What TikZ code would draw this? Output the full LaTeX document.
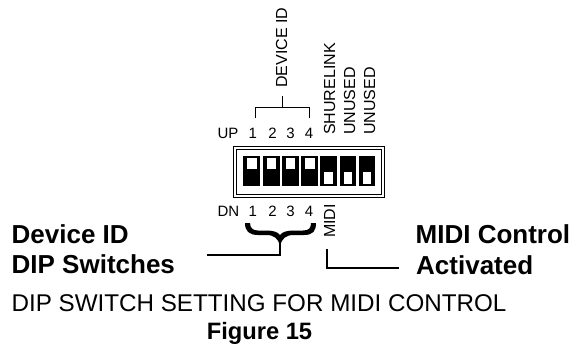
\documentclass[tikz,border=0pt]{standalone}
\usepackage{fontspec}
\setmainfont{Liberation Sans}
\newcommand{\fs}[1]{\fontsize{#1}{#1}\selectfont}
\tikzset{x=1pt,y=-1pt,
 lab/.style={inner sep=0pt,font=\fs{15}},
 vlab/.style={inner sep=0pt,font=\fs{16},rotate=90,anchor=base west},
 big/.style={inner sep=0pt,anchor=base west,font=\fs{26}\bfseries},
 ln/.style={line width=1pt},
 thick2/.style={line width=2pt},
 sw/.style={fill=black,draw=none},
 wh/.style={fill=white,draw=none}}
\begin{document}
\begin{tikzpicture}
\useasboundingbox (0,0) rectangle (576,343);
\fill[white] (0,0) rectangle (576,343);
% top labels
\node[vlab] (devid) at (287,88) {DEVICE ID};
\node[vlab] (shure) at (335,135) {SHURELINK};
\node[vlab] (un1) at (355,135) {UNUSED};
\node[vlab] (un2) at (375,135) {UNUSED};
\coordinate (b1) at (255,118); \coordinate (b4) at (309.5,118); \coordinate (bm) at (282,107);\coordinate (bt) at (282,96);
\draw[ln] (b1) -- (255,107.3) -- (309.5,107.3) -- (b4);
\draw[ln] (bm) -- (bt);
\node[lab] (up) at (228,133) {UP};
\node[lab] (u1) at (252.7,133.5) {1};
\node[lab] (u2) at (272.5,133.5) {2};
\node[lab] (u3) at (290.5,133.5) {3};
\node[lab] (u4) at (309,133.5) {4};
% switch body
\draw[line width=.7pt] (233.5,146.5) rectangle (384,197);
\draw[line width=.7pt] (236.5,149.5) rectangle (381,194);
\foreach \a/\b/\k in {243/260/0,263/279.5/0,282/298.5/0,301/318/0}{
 \fill[sw] (\a,156) rectangle (\b,186);
 \fill[wh] (\a+3.5,157.5) rectangle (\b-3.5,169);
}
\foreach \a/\b/\k in {320/337/0,339.5/356/0,359/375/0}{
 \fill[sw] (\a,156) rectangle (\b,186);
 \fill[wh] (\a+4,172) rectangle (\b-4,184);
}
% lower labels
\node[lab] (dn) at (228.5,211) {DN};
\node[lab] (d1) at (252.7,211.5) {1};
\node[lab] (d2) at (272.5,211.5) {2};
\node[lab] (d3) at (290.5,211.5) {3};
\node[lab] (d4) at (309,211.5) {4};
\node[vlab] (midi) at (335,238) {MIDI};
% brace
\fill (245,223) .. controls (245,231) and (249,235) .. (258,235)
 -- (266,235) .. controls (274,235) and (278,238) .. (280,246)
 .. controls (282,238) and (286,235) .. (294,235)
 -- (304,235) .. controls (313,235) and (316,231) .. (316,223)
 -- (311,223) .. controls (311,228) and (309,230.5) .. (303,230.5)
 -- (294,230.5) .. controls (287,230.5) and (282,232) .. (280,235)
 .. controls (278,232) and (273,230.5) .. (266,230.5)
 -- (258,230.5) .. controls (253,230.5) and (250,228) .. (250,223) -- cycle;
\coordinate (br) at (280,243);
\coordinate (le) at (207,255);
\coordinate (me) at (327,249);
\coordinate (re) at (399,268);
\draw[thick2] (br) -- (280,255) -- (le);
\draw[thick2] (me) -- (327,268) -- (re);
% big labels
\node[big] (a) at (11.5,243) {Device ID};
\node[big] (b) at (11.5,273) {DIP Switches};
\node[big] (c) at (415.5,243) {MIDI Control};
\node[big] (d) at (416,274) {Activated};
\node[inner sep=0pt,anchor=base,font=\fs{24.2}] (cap) at (259,311) {DIP SWITCH SETTING FOR MIDI CONTROL};
\node[inner sep=0pt,anchor=base,font=\fs{23.7}\bfseries] (fig) at (259.5,339) {Figure 15};
\end{tikzpicture}
\end{document}
